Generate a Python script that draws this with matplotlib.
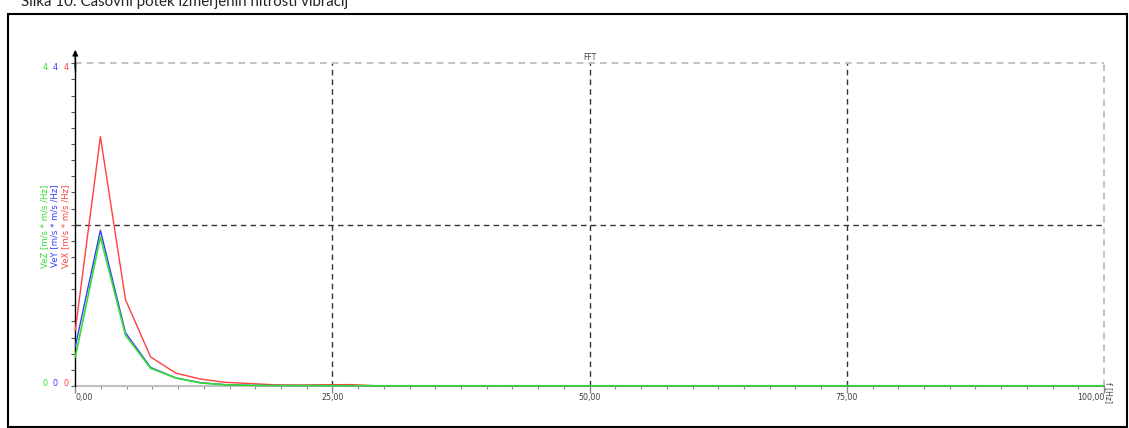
import matplotlib
matplotlib.use("Agg")
import matplotlib.pyplot as plt
from matplotlib.patches import Rectangle

# ---- data ----
freq_hz = [0.00, 2.44, 4.88, 7.32, 9.76, 12.20, 14.63, 17.07, 19.51, 21.95,
           24.39, 26.83, 29.27, 31.71, 34.15, 36.59, 39.02, 41.46, 43.90, 46.34,
           48.78, 51.22, 53.66, 56.10, 58.54, 60.98, 63.41, 65.85, 68.29, 70.73,
           73.17, 75.61, 78.05, 80.49, 82.93, 85.37, 87.80, 90.24, 92.68, 95.12,
           97.56, 100.00]
vex = [0.69, 3.09, 1.07, 0.36, 0.16, 0.085, 0.045, 0.030, 0.014, 0.012,
       0.016, 0.017, 0.003, 0.003, 0.003, 0.003, 0.003, 0.003, 0.003, 0.003,
       0.003, 0.003, 0.003, 0.003, 0.003, 0.003, 0.003, 0.003, 0.003, 0.003,
       0.003, 0.003, 0.003, 0.003, 0.003, 0.003, 0.003, 0.003, 0.003, 0.003,
       0.003, 0.003]
vey = [0.49, 1.93, 0.66, 0.23, 0.10, 0.040, 0.016, 0.008, 0.006, 0.005,
       0.005, 0.004, 0.003, 0.003, 0.003, 0.003, 0.003, 0.003, 0.003, 0.003,
       0.003, 0.003, 0.003, 0.003, 0.003, 0.003, 0.003, 0.003, 0.003, 0.003,
       0.003, 0.003, 0.003, 0.003, 0.003, 0.003, 0.003, 0.003, 0.003, 0.003,
       0.003, 0.003]
vez = [0.36, 1.85, 0.63, 0.22, 0.10, 0.037, 0.015, 0.007, 0.005, 0.005,
       0.004, 0.004, 0.003, 0.003, 0.003, 0.003, 0.003, 0.003, 0.003, 0.003,
       0.003, 0.003, 0.003, 0.003, 0.003, 0.003, 0.003, 0.003, 0.003, 0.003,
       0.003, 0.003, 0.003, 0.003, 0.003, 0.003, 0.003, 0.003, 0.003, 0.003,
       0.003, 0.003]
x_ticks = [0, 25, 50, 75, 100]
x_tick_labels = ["0,00", "25,00", "50,00", "75,00", "100,00"]
y_labels = ["VeZ [m/s * m/s /Hz]", "VeY [m/s * m/s /Hz]", "VeX [m/s * m/s /Hz]"]
title_text = "Slika 10: Časovni potek izmerjenih hitrosti vibracij"

W, H = 1129, 428
fig = plt.figure(figsize=(W / 100, H / 100), dpi=100)

def fx(px):
    return px / W

def fy(py):
    return 1 - py / H

RED = "#ff4040"
BLUE = "#3a3aff"
GREEN = "#33dd33"

# outer frame
fig.add_artist(Rectangle((fx(8), fy(427)), fx(1127) - fx(8), fy(14) - fy(427),
                         transform=fig.transFigure, fill=False, ec="black", lw=1.5))
# caption (partly cut at the top edge, as in the source)
fig.text(fx(21), fy(6), title_text, fontsize=10.8, family="Lato",
         color="#222222", ha="left", va="baseline")

x0, x1 = 75.3, 1104
y0, y1 = 386, 63.3
ax = fig.add_axes([fx(x0), fy(y0), fx(x1) - fx(x0), fy(y1) - fy(y0)])
ax.set_xlim(0, 100)
ax.set_ylim(0, 4)

ax.plot(freq_hz, vex, color=RED, lw=1.0, zorder=3, clip_on=False)
ax.plot(freq_hz, vey, color=BLUE, lw=1.0, zorder=4, clip_on=False)
ax.plot(freq_hz, vez, color=GREEN, lw=1.2, zorder=5, clip_on=False)

# grid lines
for xv in x_ticks[1:-1]:
    ax.axvline(xv, color="#333333", lw=1.0, ls=(0, (4, 3)), zorder=1)
ax.axhline(2, color="#333333", lw=1.0, ls=(0, (4, 3)), zorder=1)

# spines
for s in ["top", "right"]:
    ax.spines[s].set_visible(False)
ax.plot([0, 100], [4, 4], color="#b8b8b8", lw=1.2, ls=(0, (4, 3)), clip_on=False, zorder=1)
ax.plot([100, 100], [0, 4], color="#b8b8b8", lw=1.2, ls=(0, (4, 3)), clip_on=False, zorder=1)
ax.spines["bottom"].set_color("#c0c0c0")
ax.spines["bottom"].set_linewidth(1.5)
ax.spines["bottom"].set_zorder(2)
ax.spines["left"].set_color("black")
ax.spines["left"].set_linewidth(1.0)

# ticks
ax.set_xticks(x_ticks)
ax.set_xticklabels([])
ax.set_xticks([v * 2.5 for v in range(41)], minor=True)
ax.tick_params(axis="x", which="major", length=5, color="#888888", width=1)
ax.tick_params(axis="x", which="minor", length=2, color="#888888", width=0.8)
ax.set_yticks([v * 0.2 for v in range(21)])
ax.set_yticklabels([])
ax.tick_params(axis="y", which="major", length=3, color="#555555", width=0.8)

for xv, lab in zip(x_ticks, x_tick_labels):
    ha = "left" if xv == 0 else ("right" if xv == 100 else "center")
    ax.text(xv, -0.14, lab, fontsize=5.7, color="#404040", ha=ha, va="center")

# y-axis arrow
ax.annotate("", xy=(0, 4.2), xytext=(0, 3.9), xycoords="data",
            arrowprops=dict(arrowstyle="-|>", color="black", lw=1.0, mutation_scale=8),
            annotation_clip=False)
ax.plot([0, 0], [3.9, 4.15], color="black", lw=1.0, clip_on=False)

# FFT title
ax.text(50, 4.02, "FFT", fontsize=5.5, color="#444444", ha="center", va="bottom")
# x axis unit
fig.text(fx(1108), fy(392), "f [Hz]", fontsize=5.5, color="#444444", rotation=270,
         ha="center", va="center")

# y labels and scale limits
cols = [GREEN, BLUE, RED]
xs = [45, 55, 66]
for xp, col, lab in zip(xs, cols, y_labels):
    fig.text(fx(xp), fy(226), lab, fontsize=6.1, color=col, rotation=90,
             ha="center", va="center")
    fig.text(fx(xp), fy(67), "4", fontsize=5.8, color=col, ha="center", va="center")
    fig.text(fx(xp), fy(384), "0", fontsize=5.8, color=col, ha="center", va="center")

fig.savefig("out.png", dpi=100)
